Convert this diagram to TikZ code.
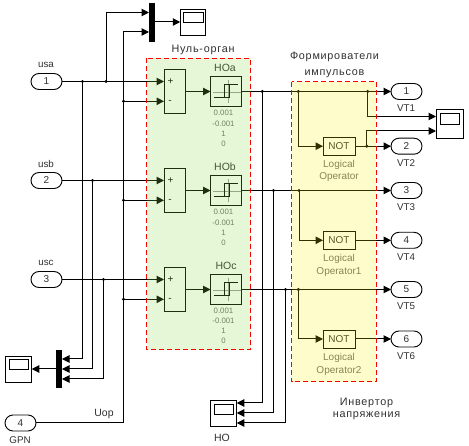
\documentclass[tikz,border=0pt]{standalone}
\usepackage{fontspec}
\setmainfont{Liberation Sans}
\newfontfamily\spacedf[LetterSpace=7]{Liberation Sans}
\usetikzlibrary{arrows.meta,shapes.misc,calc}
\definecolor{txt}{HTML}{303030}
\definecolor{soft}{HTML}{6A6A6A}
\definecolor{greenov}{RGB}{140,217,74}
\tikzset{
  x=1pt,y=-1pt,
  wire/.style={line width=1pt,draw=black},
  arr/.style={wire,-{Triangle[length=7.5pt,width=7.5pt]}},
  block/.style={draw=black,line width=.9pt,minimum width=#1,inner sep=0pt,outer sep=0pt},
  sumb/.style={block=21pt,minimum height=44pt},
  relayb/.style={block=31pt,minimum height=30pt},
  notb/.style={block=32pt,minimum height=18pt,font=\fontsize{10}{10}\selectfont,text=txt},
  scopeb/.style={block=#1,minimum height=26pt},
  screenb/.style={draw=black,line width=.8pt,minimum width=#1,minimum height=10pt,inner sep=0pt,outer sep=0pt},
  port/.style={rounded rectangle,draw=black,line width=.9pt,minimum width=31pt,minimum height=16pt,inner sep=0pt,outer sep=0pt,font=\fontsize{10}{10}\selectfont,text=txt},
  muxb/.style={fill=black,draw=none,minimum width=6pt,minimum height=#1,inner sep=0pt,outer sep=0pt},
  junc/.style={circle,fill=black,minimum size=3.4pt,inner sep=0pt,outer sep=0pt},
  lab/.style={font=\fontsize{9.8}{10}\selectfont,text=txt,inner sep=0pt},
  logic/.style={font=\fontsize{10}{12.5}\selectfont,text=soft,align=center,inner sep=0pt},
  param/.style={font=\fontsize{7.8}{10.2}\selectfont,text=soft,align=center,inner sep=0pt},
  titl/.style={font=\spacedf\fontsize{10.8}{16}\selectfont,text=txt,align=center,inner sep=0pt},
  titlb/.style={font=\spacedf\fontsize{10.8}{12.7}\selectfont,text=txt,align=center,inner sep=0pt},
  region/.style={draw=none,fill=#1},
  regionedge/.style={draw=red,line width=1pt,dash pattern=on 5pt off 3pt},
  relayicon/.pic={
    \draw[gray!80,line width=.7pt] (-13,.8) -- (14.7,.8) (2,-11.5) -- (2,11.5);
    \draw[black,line width=.9pt] (-12,5.8) -- (3,5.8) -- (3,-7.2) -- (-2,-7.2) -- (-2,5.8) (-2,-7.2) -- (12.3,-7.2);
  }
}
\begin{document}
\begin{tikzpicture}
\useasboundingbox (0,0) rectangle (469,446);
% ports
\node[port] (in1) at (46.5,81.5) {1};
\node[port] (in2) at (46.5,180.5) {2};
\node[port] (in3) at (46.5,279.5) {3};
\node[port] (in4) at (20.5,423) {4};
\node[port] (out1) at (406.5,91.5) {1};
\node[port] (out2) at (406.5,146.2) {2};
\node[port] (out3) at (406.5,190.5) {3};
\node[port] (out4) at (406.5,240.3) {4};
\node[port] (out5) at (406.5,289.5) {5};
\node[port] (out6) at (406.5,339) {6};
% blocks
\node[sumb] (sum1) at (174.5,91.3) {};
\node[sumb] (sum2) at (174.5,190.3) {};
\node[sumb] (sum3) at (174.5,289.3) {};
\node[relayb] (rel1) at (226,91.5) {};
\node[relayb] (rel2) at (226,190.5) {};
\node[relayb] (rel3) at (226,289.5) {};
\pic at (226,91.5) {relayicon};
\pic at (226,190.5) {relayicon};
\pic at (226,289.5) {relayicon};
\node[notb] (not1) at (339,146.2) {NOT};
\node[notb] (not2) at (339,240.3) {NOT};
\node[notb] (not3) at (339,339) {NOT};
\node[muxb=39pt] (mux1) at (152,22.5) {};
\node[muxb=38pt] (mux2) at (59,369) {};
\node[scopeb=25.5pt] (sc1) at (193,22) {};
\node[screenb=19.5pt] (sc1s) at (193.5,17.5) {};
\node[scopeb=26.5pt] (sc2) at (18.5,369) {};
\node[screenb=19.5pt] (sc2s) at (19,364) {};
\node[scopeb=26.5pt] (sc3) at (223.5,413.7) {};
\node[screenb=19.5pt] (sc3s) at (224,409.5) {};
\node[block=27pt,minimum height=29pt] (sc4) at (449.5,123.5) {};
\node[screenb=19.5pt,minimum height=11pt] (sc4s) at (450,119) {};
% junctions
\node[junc] (j1a) at (82.5,81.5) {};
\node[junc] (j1b) at (106,81.5) {};
\node[junc] (j2a) at (92.5,180.5) {};
\node[junc] (j3a) at (103.5,279.5) {};
\node[junc] (m1) at (123.5,101.3) {};
\node[junc] (m2) at (123.5,200.3) {};
\node[junc] (m3) at (123.5,299.3) {};
\node[junc] (h1) at (262.3,91.5) {};
\node[junc] (h2) at (273.5,190.5) {};
\node[junc] (h3) at (285.5,289.5) {};
\node[junc] (f1) at (298.3,91.5) {};
\node[junc] (f2) at (299,190.5) {};
\node[junc] (f3) at (298.3,289.5) {};
\node[junc] (t1) at (367.7,91.5) {};
\node[junc] (t2) at (366.8,146.2) {};
\coordinate (c1) at (106,12.5);
\coordinate (c2) at (123.5,32);
\coordinate (c3) at (123.5,423);
\coordinate (k1) at (82.5,359);
\coordinate (k2) at (92.5,369);
\coordinate (k3) at (103.5,379);
\coordinate (q1) at (262.3,403);
\coordinate (q2) at (273.5,413);
\coordinate (q3) at (285.5,423);
\coordinate (s1) at (367.7,116.5);
\coordinate (s2) at (366.8,131);
\coordinate (n1) at (298.3,146.2);
\coordinate (n2) at (299,240.3);
\coordinate (n3) at (298.3,339);
% wires
\foreach \a/\b in {in1/1,in2/2,in3/3}{\draw[arr] (\a.east) -- (\a.east -| sum\b.west);}
\foreach \a/\b in {m1/1,m2/2,m3/3}{\draw[arr] (\a.center) -- (\a.center -| sum\b.west);}
\foreach \b in {1,2,3}{\draw[arr] (sum\b.east |- rel\b.west) -- (rel\b.west);}
\draw[arr] (j1b.center) -- (c1) -- (c1 -| mux1.west);
\draw[arr] (in4.east) -- (c3) -- (c2) -- (c2 -| mux1.west);
\draw[arr] (mux1.east |- sc1.west) -- (sc1.west);
\draw[arr] (j1a.center) -- (k1) -- (k1 -| mux2.east);
\draw[arr] (j2a.center) -- (k2) -- (k2 -| mux2.east);
\draw[arr] (j3a.center) -- (k3) -- (k3 -| mux2.east);
\draw[arr] (mux2.west) -- (sc2.east);
\draw[arr] (rel1.east) -- (out1.west);
\draw[arr] (rel2.east) -- (out3.west);
\draw[arr] (rel3.east) -- (out5.west);
\draw[arr] (h1.center) -- (q1) -- (q1 -| sc3.east);
\draw[arr] (h2.center) -- (q2) -- (q2 -| sc3.east);
\draw[arr] (h3.center) -- (q3) -- (q3 -| sc3.east);
\draw[arr] (f1.center) -- (n1) -- (not1.west);
\draw[arr] (f2.center) -- (n2) -- (not2.west);
\draw[arr] (f3.center) -- (n3) -- (not3.west);
\draw[arr] (not1.east) -- (out2.west);
\draw[arr] (not2.east) -- (out4.west);
\draw[arr] (not3.east) -- (out6.west);
\draw[arr] (t1.center) -- (s1) -- (s1 -| sc4.west);
\draw[arr] (t2.center) -- (s2) -- (s2 -| sc4.west);
% labels inside regions
\foreach \b in {1,2,3}{
  \node[font=\fontsize{10}{10}\selectfont,inner sep=0pt] at ($(sum\b.center)+(-4,-9.3)$) {+};
  \node[font=\fontsize{10}{10}\selectfont,inner sep=0pt] at ($(sum\b.center)+(-4.5,10.5)$) {-};
}
\node[lab,font=\fontsize{10.5}{10}\selectfont] (la) at (225,68) {HOa};
\node[lab,font=\fontsize{10.5}{10}\selectfont] (lb) at (225,167) {HOb};
\node[lab,font=\fontsize{10.5}{10}\selectfont] (lc) at (226,265.5) {HOc};
\node[param] (pa) at (223.5,128.5) {0.001\\-0.001\\1\\0};
\node[param] (pb) at (223.5,227.5) {0.001\\-0.001\\1\\0};
\node[param] (pc) at (223.5,326) {0.001\\-0.001\\1\\0};
\node[logic] (lo1) at (339,171) {Logical\\Operator};
\node[logic] (lo2) at (339,265.2) {Logical\\Operator1};
\node[logic] (lo3) at (339,364.2) {Logical\\Operator2};
% region tints laid over the wires
\fill[region=greenov,fill opacity=.22] (146.5,58.5) rectangle (250.5,349.7);
\fill[region=yellow,fill opacity=.2] (291.7,81.7) rectangle (376.3,382);
\draw[regionedge] (146.5,58.5) rectangle (250.5,349.7);
\draw[regionedge] (291.7,81.7) rectangle (376.3,382);
% outer labels
\node[lab] (lusa) at (46,65) {usa};
\node[lab] (lusb) at (46,164) {usb};
\node[lab] (lusc) at (46,263) {usc};
\node[lab] (lgpn) at (20,440.5) {GPN};
\node[lab,font=\fontsize{10.5}{10}\selectfont] (luop) at (104,414) {Uop};
\node[lab,font=\fontsize{10.5}{10}\selectfont] (lho) at (222,437.5) {HO};
\node[lab] at (406,108.5) {VT1};
\node[lab] at (406,163) {VT2};
\node[lab] at (406,207.5) {VT3};
\node[lab] at (406,257) {VT4};
\node[lab] at (406,306.5) {VT5};
\node[lab] at (406,356) {VT6};
\node[titl] (t1l) at (203,50) {Нуль-орган};
\node[titl] (t2l) at (334.5,64.5) {Формирователи\\импульсов};
\node[titlb] (t3l) at (366.5,409) {Инвертор\\напряжения};
\end{tikzpicture}
\end{document}
